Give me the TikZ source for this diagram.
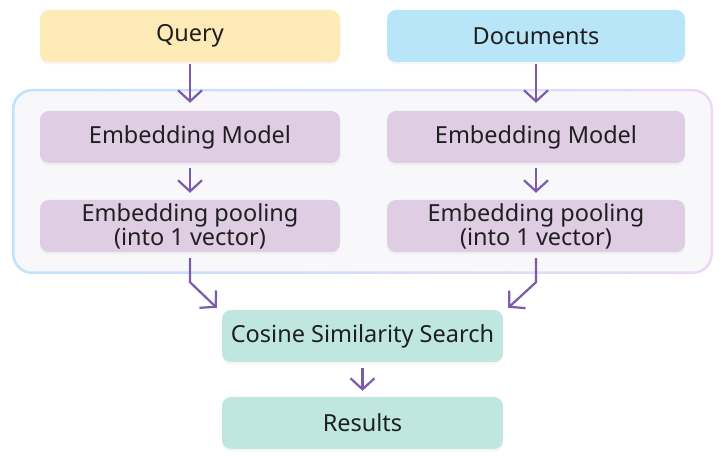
\documentclass[tikz,border=0pt]{standalone}
\usepackage{fontspec}
\setmainfont{Noto Sans}
\usetikzlibrary{arrows.meta,shadows}
\definecolor{qfill}{HTML}{FDEAB6}
\definecolor{dfill}{HTML}{B9E5F9}
\definecolor{efill}{HTML}{DFCDE4}
\definecolor{cfill}{HTML}{BFE7E0}
\definecolor{contfill}{HTML}{F8F8FB}
\definecolor{contl}{HTML}{BEE3FA}
\definecolor{contr}{HTML}{EDD7FA}
\definecolor{arrc}{HTML}{7B5BAA}
\definecolor{txt}{HTML}{1F1F1F}
\tikzset{
  box/.style={rounded corners=9pt, minimum height=52pt, inner sep=0pt, align=center,
    text=txt, font=\fontsize{23.5}{24}\selectfont,
    drop shadow={opacity=0.07, shadow xshift=0pt, shadow yshift=-2.5pt}},
  arr/.style={draw=arrc, line width=2.2pt, -{Straight Barb[length=11pt,width=24pt,line width=2.2pt]}}
}
\begin{document}
\begin{tikzpicture}[x=1pt,y=1pt]
\useasboundingbox (0,0) rectangle (720,457);
% container
\shade[left color=contl, right color=contr, rounded corners=20pt] (12,183) rectangle (713,368);
\fill[contfill, rounded corners=18pt] (14.5,185.5) rectangle (710.5,365.5);
% nodes
\node[box, fill=qfill, minimum width=300pt] (q) at (190,421) {Query};
\node[box, fill=dfill, minimum width=298pt] (d) at (536,421) {Documents};
\node[box, fill=efill, minimum width=300pt] (el) at (190,320) {Embedding Model};
\node[box, fill=efill, minimum width=298pt] (er) at (536,320) {Embedding Model};
\node[box, fill=efill, minimum width=300pt] (pl) at (190,231) {Embedding pooling\\(into 1 vector)};
\node[box, fill=efill, minimum width=298pt] (pr) at (536,231) {Embedding pooling\\(into 1 vector)};
\node[box, fill=cfill, minimum width=281pt] (c) at (362.5,121) {Cosine Similarity Search};
\node[box, fill=cfill, minimum width=281pt] (r) at (362.5,34) {Results};
% arrows
\draw[arr, shorten <=2pt, shorten >=8pt] (q.south) -- (el.north);
\draw[arr, shorten <=2pt, shorten >=8pt] (d.south) -- (er.north);
\draw[arr, shorten <=5pt, shorten >=7pt] (el.south) -- (pl.north);
\draw[arr, shorten <=5pt, shorten >=7pt] (er.south) -- (pr.north);
\draw[arr, shorten <=6pt, shorten >=6pt] (c.south) -- (r.north);
\coordinate (lk) at ([yshift=-30pt]pl.south);
\coordinate (rk) at ([yshift=-30pt]pr.south);
\draw[arr] ([yshift=-6pt]pl.south) -- (lk) -- ([xshift=-5pt,yshift=2pt]c.north west);
\draw[arr] ([yshift=-6pt]pr.south) -- (rk) -- ([xshift=5pt,yshift=2pt]c.north east);
\end{tikzpicture}
\end{document}
